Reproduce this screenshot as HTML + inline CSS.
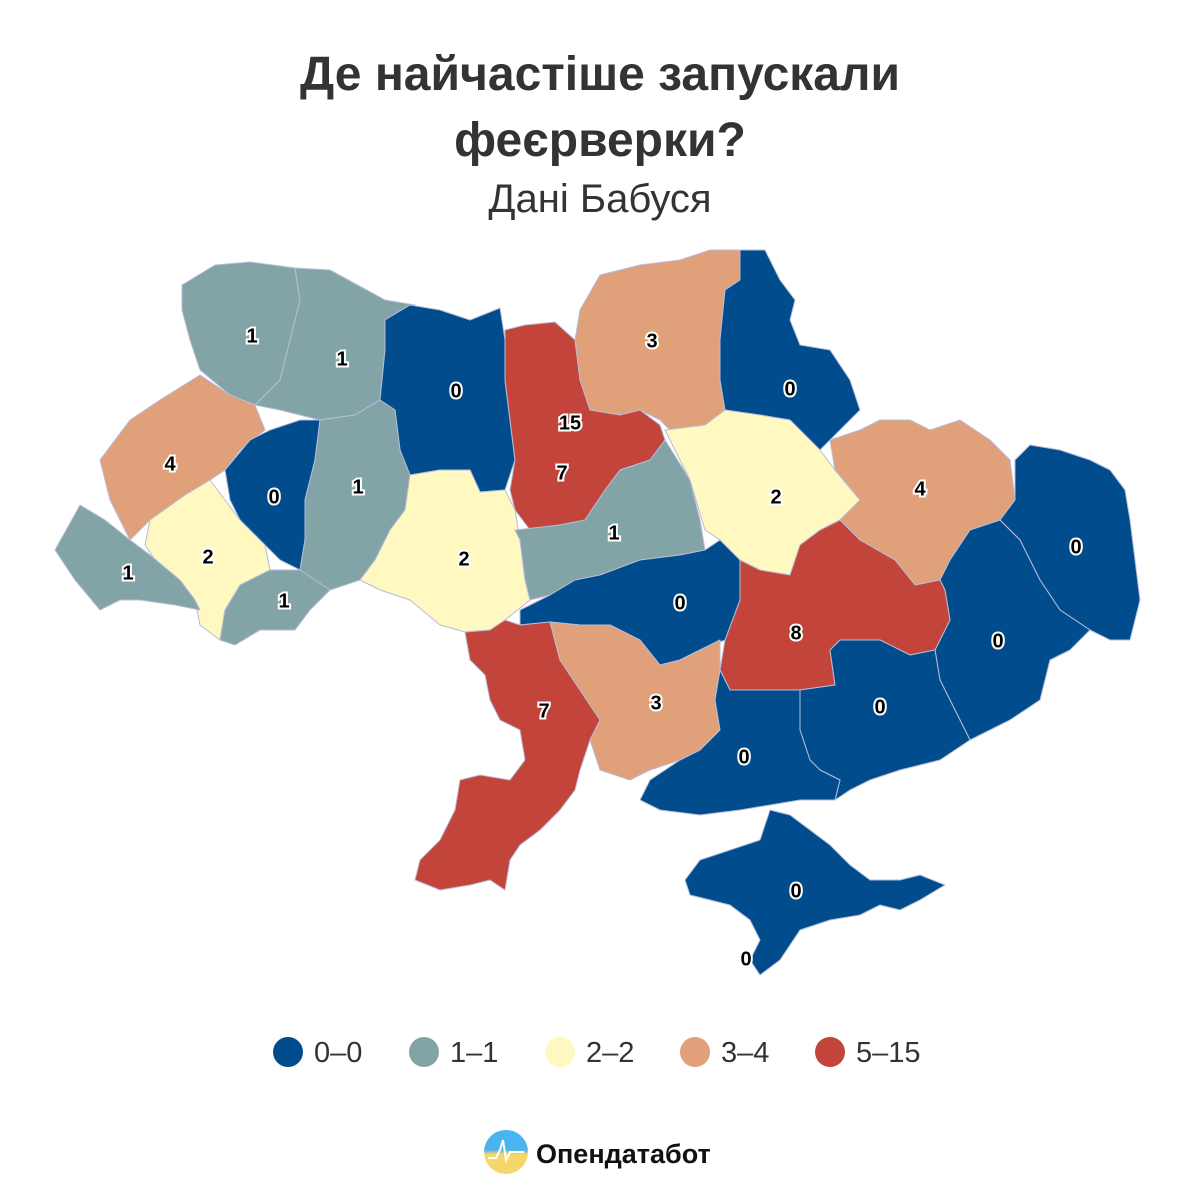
<!DOCTYPE html>
<html><head><meta charset="utf-8"><style>
body{margin:0;background:#fff;}
svg{display:block}
.l{font:bold 20px "Liberation Sans",sans-serif;fill:#000;stroke:#fff;stroke-width:4px;paint-order:stroke;text-anchor:middle;dominant-baseline:middle}
path,polygon{stroke:#b8bcd8;stroke-width:1;stroke-linejoin:round}
.b{fill:#004c8c}.t{fill:#82a4a6}.y{fill:#fff8c0}.o{fill:#e0a07a}.r{fill:#c3443a}
</style></head><body>
<svg width="1200" height="1200" viewBox="0 0 1200 1200" xmlns="http://www.w3.org/2000/svg">
<defs><linearGradient id="g" x1="0" y1="0" x2="0" y2="1"><stop offset="0.45" stop-color="#4ab3f0"/><stop offset="0.55" stop-color="#f5d66a"/></linearGradient></defs>
<text x="600" y="90" text-anchor="middle" font-family="Liberation Sans,sans-serif" font-weight="bold" font-size="48" fill="#333">Де найчастіше запускали</text>
<text x="600" y="156" text-anchor="middle" font-family="Liberation Sans,sans-serif" font-weight="bold" font-size="48" fill="#333">феєрверки?</text>
<text x="600" y="212" text-anchor="middle" font-family="Liberation Sans,sans-serif" font-size="40" fill="#333">Дані Бабуся</text>

<polygon class="t" points="182,285 215,265 250,262 295,268 300,300 290,340 280,380 255,405 230,395 200,370 190,340 182,310"/>
<polygon class="t" points="295,268 330,270 385,300 415,305 400,320 385,350 380,400 355,415 320,420 280,410 255,405 280,380 290,340 300,300"/>
<polygon class="b" points="385,320 410,305 440,310 470,320 500,308 505,340 505,380 510,420 515,460 505,490 480,492 470,470 440,470 410,475 400,450 395,410 380,400 385,350"/>
<polygon class="r" points="505,330 525,325 555,322 575,340 580,380 590,410 640,410 660,425 665,440 650,460 620,470 605,490 585,520 560,525 530,530 515,510 510,490 515,460 510,420 505,380"/>
<polygon class="o" points="580,310 600,275 640,265 680,260 710,250 740,250 740,280 725,290 720,340 720,380 725,410 705,425 670,430 660,420 640,410 620,415 590,410 580,380 575,340"/>
<polygon class="b" points="740,250 765,250 780,280 795,300 790,320 800,345 830,350 850,380 860,410 830,440 820,450 790,420 760,415 725,410 720,380 720,340 725,290 740,280"/>
<polygon class="o" points="100,460 130,420 160,400 200,375 230,395 255,405 265,430 240,450 225,470 210,480 185,495 150,520 130,540 110,500"/>
<polygon class="b" points="225,470 250,440 270,430 300,420 320,420 315,460 305,500 305,540 300,570 280,560 265,545 240,520 230,500"/>
<polygon class="t" points="320,420 355,415 380,400 395,410 400,450 410,475 405,510 390,530 375,560 360,580 330,590 300,570 305,540 305,500 315,460"/>
<polygon class="y" points="150,520 185,495 210,480 225,500 240,520 265,545 270,570 240,585 225,610 220,640 200,625 195,600 180,580 155,560 145,545"/>
<polygon class="t" points="55,550 80,505 105,520 130,540 150,555 180,580 195,600 200,610 175,605 140,600 120,600 100,610 75,580"/>
<polygon class="t" points="220,640 225,610 240,585 270,570 300,570 330,590 310,610 295,630 260,630 235,645"/>
<polygon class="y" points="405,510 410,475 440,470 470,470 480,492 505,490 515,510 520,540 525,580 530,600 505,620 490,630 465,632 440,625 410,600 380,590 360,580 375,560 390,530"/>
<polygon class="t" points="515,530 560,525 585,520 605,490 620,470 650,460 665,440 690,480 700,520 705,550 680,555 640,560 600,575 575,580 550,595 530,600 525,580 520,540"/>
<polygon class="y" points="665,430 705,425 725,410 760,415 790,420 820,450 835,470 860,500 840,520 820,530 800,545 790,575 760,570 740,560 720,540 705,530 690,480"/>
<polygon class="o" points="830,440 860,430 880,420 910,420 930,430 960,420 990,440 1010,460 1015,500 1000,520 970,530 950,560 940,580 915,585 895,560 860,540 840,520 860,500 835,470"/>
<polygon class="b" points="1015,460 1030,445 1060,450 1090,460 1110,470 1125,490 1130,520 1135,560 1140,600 1130,640 1110,640 1090,630 1060,610 1040,580 1020,540 1000,520 1015,500"/>
<polygon class="b" points="1000,520 1020,540 1040,580 1060,610 1090,630 1070,650 1050,660 1040,700 1010,720 970,740 960,720 950,700 940,680 935,650 950,620 945,590 940,580 950,560 970,530"/>
<polygon class="r" points="740,560 760,570 790,575 800,545 820,530 840,520 860,540 895,560 915,585 940,580 945,590 950,620 935,650 910,655 880,640 840,640 830,650 835,685 800,690 760,690 730,690 720,670 725,640 740,600"/>
<polygon class="b" points="520,610 550,595 575,580 600,575 640,560 680,555 705,550 720,540 740,560 740,600 725,640 700,650 680,660 660,665 640,640 610,625 580,625 550,622 520,625"/>
<polygon class="r" points="465,632 490,630 505,620 520,625 550,622 560,660 580,690 600,720 590,740 580,770 575,790 560,810 540,830 520,845 510,860 505,890 490,880 470,885 440,890 415,880 420,860 440,840 455,810 460,780 480,775 510,780 525,760 520,730 500,720 490,700 485,675 470,660"/>
<polygon class="o" points="550,622 580,625 610,625 640,640 660,665 680,660 700,650 720,640 720,670 715,700 720,730 700,750 680,760 650,770 630,780 600,770 590,740 600,720 580,690 560,660"/>
<polygon class="b" points="800,690 835,685 830,650 840,640 880,640 910,655 935,650 940,680 950,700 960,720 970,740 940,760 900,770 870,780 850,790 835,800 840,780 820,770 810,760 800,730"/>
<polygon class="b" points="720,670 730,690 760,690 800,690 800,730 810,760 820,770 840,780 835,800 800,800 770,805 740,810 700,815 660,810 640,800 650,780 680,760 700,750 720,730 715,700"/>
<polygon class="b" points="685,880 700,860 730,850 760,840 770,810 790,815 810,830 830,845 850,865 870,880 900,880 920,875 945,885 920,900 900,910 880,905 860,915 830,920 800,930 780,960 760,975 750,960 760,940 750,920 730,905 710,900 690,895"/>

<text class="l" x="252" y="337">1</text>
<text class="l" x="342" y="360">1</text>
<text class="l" x="456" y="392">0</text>
<text class="l" x="652" y="342">3</text>
<text class="l" x="790" y="390">0</text>
<text class="l" x="570" y="424">15</text>
<text class="l" x="562" y="474">7</text>
<text class="l" x="170" y="465">4</text>
<text class="l" x="274" y="498">0</text>
<text class="l" x="358" y="488">1</text>
<text class="l" x="776" y="498">2</text>
<text class="l" x="920" y="490">4</text>
<text class="l" x="1076" y="548">0</text>
<text class="l" x="208" y="558">2</text>
<text class="l" x="128" y="574">1</text>
<text class="l" x="284" y="602">1</text>
<text class="l" x="464" y="560">2</text>
<text class="l" x="614" y="534">1</text>
<text class="l" x="680" y="604">0</text>
<text class="l" x="796" y="634">8</text>
<text class="l" x="998" y="642">0</text>
<text class="l" x="544" y="712">7</text>
<text class="l" x="656" y="704">3</text>
<text class="l" x="880" y="708">0</text>
<text class="l" x="744" y="758">0</text>
<text class="l" x="796" y="892">0</text>
<text class="l" x="746" y="960">0</text>

<g font-family="Liberation Sans,sans-serif" font-size="29" fill="#333">
<circle cx="288" cy="1052" r="15" fill="#004c8c"/><text x="314" y="1062">0–0</text>
<circle cx="424" cy="1052" r="15" fill="#82a4a6"/><text x="450" y="1062">1–1</text>
<circle cx="560" cy="1052" r="15" fill="#fff8c0"/><text x="586" y="1062">2–2</text>
<circle cx="695" cy="1052" r="15" fill="#e0a07a"/><text x="721" y="1062">3–4</text>
<circle cx="830" cy="1052" r="15" fill="#c3443a"/><text x="856" y="1062">5–15</text>
</g>
<circle cx="506" cy="1152" r="22" fill="url(#g)"/>
<polyline points="488,1158 496,1158 500,1150 503,1140 506,1160 510,1152 524,1152" fill="none" stroke="#fff" stroke-width="2"/>
<text x="536" y="1163" font-family="Liberation Sans,sans-serif" font-weight="bold" font-size="27" fill="#111">Опендатабот</text>
</svg>
</body></html>
